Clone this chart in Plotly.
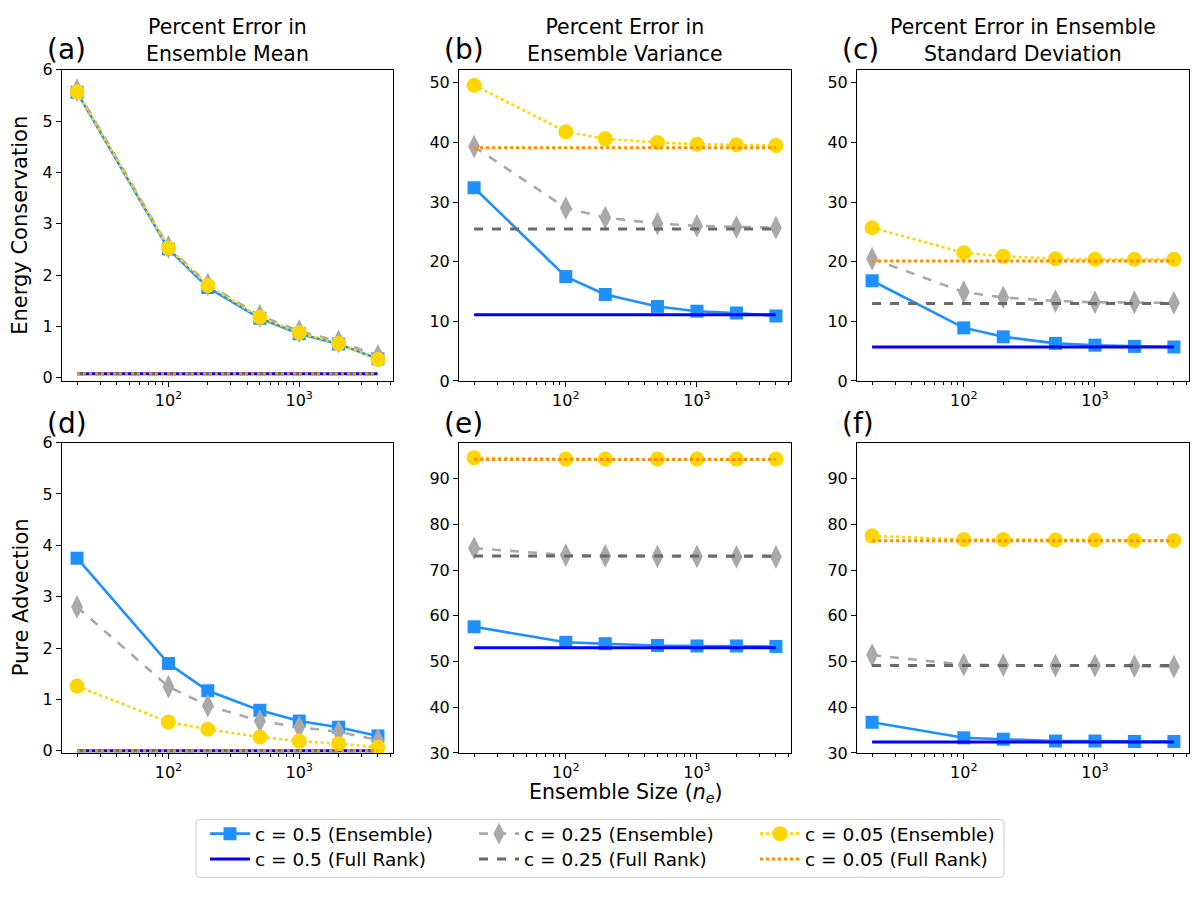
import plotly.graph_objects as go
from plotly.subplots import make_subplots

# ensemble sizes
ne = [20, 100, 200, 500, 1000, 2000, 4000]

# energy conservation: percent error in ensemble mean
ec_mean_c05 = [5.56, 2.51, 1.76, 1.16, 0.86, 0.66, 0.37]
ec_mean_c025 = [5.60, 2.55, 1.82, 1.21, 0.91, 0.71, 0.43]
ec_mean_c005 = [5.57, 2.53, 1.80, 1.18, 0.88, 0.67, 0.36]
ec_mean_fr = [0.08, 0.08, 0.08]

# energy conservation: percent error in ensemble variance
ec_var_c05 = [32.4, 17.5, 14.5, 12.5, 11.7, 11.4, 10.9]
ec_var_c025 = [39.3, 29.0, 27.4, 26.4, 26.0, 25.8, 25.7]
ec_var_c005 = [49.6, 41.8, 40.6, 40.0, 39.7, 39.6, 39.5]
ec_var_fr = [11.1, 25.5, 39.1]

# energy conservation: percent error in ensemble std dev
ec_std_c05 = [16.8, 8.9, 7.4, 6.3, 6.0, 5.8, 5.7]
ec_std_c025 = [20.5, 14.9, 14.0, 13.4, 13.2, 13.2, 13.1]
ec_std_c005 = [25.7, 21.5, 20.9, 20.5, 20.4, 20.4, 20.4]
ec_std_fr = [5.7, 13.0, 20.1]

# pure advection
pa_mean_c05 = [3.75, 1.70, 1.17, 0.79, 0.58, 0.46, 0.29]
pa_mean_c025 = [2.80, 1.25, 0.88, 0.58, 0.46, 0.37, 0.21]
pa_mean_c005 = [1.26, 0.56, 0.42, 0.27, 0.19, 0.14, 0.07]
pa_mean_fr = [0.0, 0.0, 0.0]

pa_var_c05 = [57.6, 54.2, 53.9, 53.5, 53.4, 53.4, 53.3]
pa_var_c025 = [74.8, 73.3, 73.1, 73.0, 73.0, 72.9, 72.9]
pa_var_c005 = [94.6, 94.3, 94.3, 94.3, 94.3, 94.3, 94.3]
pa_var_fr = [53.0, 73.1, 94.2]

pa_std_c05 = [36.7, 33.3, 33.0, 32.6, 32.6, 32.5, 32.5]
pa_std_c025 = [51.4, 49.3, 49.2, 49.1, 49.1, 49.0, 48.9]
pa_std_c005 = [77.5, 76.7, 76.7, 76.6, 76.6, 76.5, 76.5]
pa_std_fr = [32.4, 49.1, 76.4]

c_labels = ["c = 0.5", "c = 0.25", "c = 0.05"]
col_titles = ["Percent Error in<br>Ensemble Mean",
              "Percent Error in<br>Ensemble Variance",
              "Percent Error in Ensemble<br>Standard Deviation"]
row_titles = ["Energy Conservation", "Pure Advection"]
panel_labels = ["(a)", "(b)", "(c)", "(d)", "(e)", "(f)"]

panels = [
    (ec_mean_c05, ec_mean_c025, ec_mean_c005, ec_mean_fr),
    (ec_var_c05, ec_var_c025, ec_var_c005, ec_var_fr),
    (ec_std_c05, ec_std_c025, ec_std_c005, ec_std_fr),
    (pa_mean_c05, pa_mean_c025, pa_mean_c005, pa_mean_fr),
    (pa_var_c05, pa_var_c025, pa_var_c005, pa_var_fr),
    (pa_std_c05, pa_std_c025, pa_std_c005, pa_std_fr),
]
y_ranges = [[-0.06, 6], [0, 52.2], [0, 52.2],
            [-0.04, 6], [30, 97.9], [30, 97.9]]
y_dticks = [1, 10, 10, 1, 10, 10]

ens_style = [
    dict(color="#1E90FF", dash="solid", symbol="square", size=13),
    dict(color="#A9A9A9", dash="dash", symbol="diamond-tall", size=17),
    dict(color="#FFD700", dash="dot", symbol="circle", size=15),
]
fr_style = [
    dict(color="#0000FF", dash="solid"),
    dict(color="#696969", dash="dash"),
    dict(color="#FF8C00", dash="dot"),
]

W, H = 1200, 897
col_px = [(62, 393), (459, 791), (857, 1189)]
row_px = [(62, 380), (443, 760)]

fig = make_subplots(rows=2, cols=3)

for p, series in enumerate(panels):
    r = p // 3 + 1
    c = p % 3 + 1
    for k in range(3):
        es = ens_style[k]
        fig.add_trace(go.Scatter(
            x=ne, y=series[k], mode="lines+markers",
            name=c_labels[k] + " (Ensemble)",
            legend="legend" if k == 0 else "legend%d" % (k + 1),
            showlegend=(p == 0),
            line=dict(color=es["color"], dash=es["dash"], width=2.6),
            marker=dict(symbol=es["symbol"], size=es["size"],
                        color=es["color"])),
            row=r, col=c)
        fs = fr_style[k]
        fig.add_trace(go.Scatter(
            x=[ne[0], ne[-1]], y=[series[3][k], series[3][k]],
            mode="lines", name=c_labels[k] + " (Full Rank)",
            legend="legend%d" % (k + 4), showlegend=(p == 0),
            line=dict(color=fs["color"], dash=fs["dash"], width=3)),
            row=r, col=c)

minor_vals = [20, 30, 40, 50, 60, 70, 80, 90,
              200, 300, 400, 500, 600, 700, 800, 900,
              2000, 3000, 4000, 5000]

for p in range(6):
    r = p // 3 + 1
    c = p % 3 + 1
    x0, x1 = col_px[c - 1]
    y0, y1 = row_px[r - 1]
    fig.update_xaxes(
        type="log", range=[1.186, 3.717],
        domain=[x0 / W, x1 / W],
        tickvals=[100, 1000], ticktext=["10<sup>2</sup>", "10<sup>3</sup>"],
        ticks="outside", ticklen=5, tickcolor="black",
        minor=dict(tickvals=minor_vals, ticks="outside", ticklen=3,
                   tickcolor="black"),
        showgrid=False, zeroline=False,
        showline=True, linecolor="black", linewidth=1, mirror=True,
        tickfont=dict(size=16, color="black"),
        row=r, col=c)
    fig.update_yaxes(
        range=y_ranges[p], dtick=y_dticks[p], tick0=0,
        domain=[1 - y1 / H, 1 - y0 / H],
        ticks="outside", ticklen=5, tickcolor="black",
        showgrid=False, zeroline=False,
        showline=True, linecolor="black", linewidth=1, mirror=True,
        tickfont=dict(size=16, color="black"),
        row=r, col=c)

annotations = []
for c in range(3):
    x0, x1 = col_px[c]
    annotations.append(dict(
        text=col_titles[c], x=(x0 + x1) / 2 / W, y=1 - 32.5 / H,
        xref="paper", yref="paper", xanchor="center", yanchor="middle",
        showarrow=False, font=dict(size=20.5, color="black")))
panel_label_y = [41.5, 423.5]
for p in range(6):
    r = p // 3
    c = p % 3
    x0 = col_px[c][0]
    annotations.append(dict(
        text=panel_labels[p], x=(x0 - 17) / W, y=1 - panel_label_y[r] / H,
        xref="paper", yref="paper", xanchor="left", yanchor="middle",
        showarrow=False, font=dict(size=28, color="black")))
for r in range(2):
    y0, y1 = row_px[r]
    annotations.append(dict(
        text=row_titles[r], x=20.5 / W, y=1 - (y0 + y1) / 2 / H,
        xref="paper", yref="paper", xanchor="center", yanchor="middle",
        textangle=-90, showarrow=False, font=dict(size=21, color="black")))
annotations.append(dict(
    text="Ensemble Size (<i>n</i><sub><i>e</i></sub>)",
    x=(col_px[1][0] + col_px[1][1]) / 2 / W, y=1 - 801 / H,
    xref="paper", yref="paper", xanchor="center", yanchor="middle",
    showarrow=False, font=dict(size=20.5, color="black")))

legend_x = [205, 474, 755]
legend_y = [843, 869]
legends = {}
for i in range(6):
    key = "legend" if i == 0 else "legend%d" % (i + 1)
    legends[key] = dict(
        x=legend_x[i % 3] / W, y=1 - legend_y[i // 3] / H,
        xanchor="left", yanchor="middle", itemwidth=40,
        font=dict(size=18.5, color="black"), bgcolor="rgba(0,0,0,0)")

bx0, bx1, by0, by1, rad = 196, 1004, 828, 887, 4
box_path = ("M {a},{t} L {b},{t} Q {r},{t} {r},{c} L {r},{d} Q {r},{bt} {b},{bt} "
            "L {a},{bt} Q {l},{bt} {l},{d} L {l},{c} Q {l},{t} {a},{t} Z").format(
    a=(bx0 + rad) / W, b=(bx1 - rad) / W, l=bx0 / W, r=bx1 / W,
    t=1 - by0 / H, bt=1 - by1 / H, c=1 - (by0 + rad) / H, d=1 - (by1 - rad) / H)

fig.update_layout(
    width=W, height=H,
    margin=dict(l=0, r=0, t=0, b=0),
    paper_bgcolor="white", plot_bgcolor="white",
    font=dict(family="DejaVu Sans", color="black"),
    annotations=annotations,
    shapes=[dict(type="path", path=box_path, xref="paper", yref="paper",
                 line=dict(color="#CCCCCC", width=1))],
    **legends,
)

fig.write_html("out.html", config={"displayModeBar": False},
               post_script="document.body.style.margin='0';")
